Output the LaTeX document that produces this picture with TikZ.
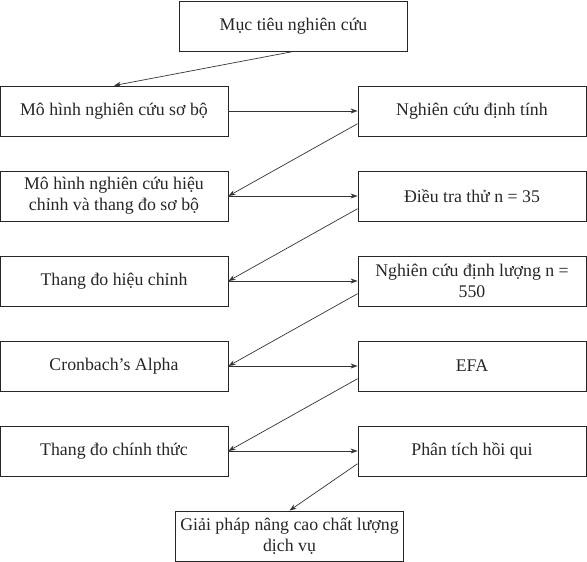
\documentclass[tikz,border=0pt]{standalone}
\usepackage{fontspec}
\setmainfont{Liberation Serif}
\usetikzlibrary{arrows.meta,calc}
\begin{document}
\begin{tikzpicture}[x=1pt,y=-1pt,
  box/.style={draw=black!85,line width=0.9pt,minimum width=228pt,minimum height=50pt,inner sep=1pt,align=center,
    font=\fontsize{17.8}{21}\selectfont,text=black!85},
  arr/.style={draw=black!80,line width=0.7pt,-{Stealth[length=7pt,width=5pt]}}]
\useasboundingbox (0,0) rectangle (587,562);
\node[box] (top) at (293.5,26) {Mục tiêu nghiên cứu};
\node[box] (l1) at (114,111) {Mô hình nghiên cứu sơ bộ};
\node[box] (r1) at (472,111) {Nghiên cứu định tính};
\node[box] (l2) at (114,196) {Mô hình nghiên cứu hiệu\\chỉnh và thang đo sơ bộ};
\node[box] (r2) at (472,196) {Điều tra thử n = 35};
\node[box] (l3) at (114,281) {Thang đo hiệu chỉnh};
\node[box] (r3) at (472,281) {Nghiên cứu định lượng n =\\550};
\node[box] (l4) at (114,366) {Cronbach’s Alpha};
\node[box] (r4) at (472,366) {EFA};
\node[box] (l5) at (114,451) {Thang đo chính thức};
\node[box] (r5) at (472,451) {Phân tích hồi qui};
\node[box] (bot) at (289.5,536) {Giải pháp nâng cao chất lượng\\dịch vụ};
\draw[arr] (top.south) -- (l1.north);
\foreach \i in {1,...,5} {
  \draw[arr] (l\i.east) -- (r\i.west);
}
\foreach \i/\j in {1/2,2/3,3/4,4/5} {
  \draw[arr] ($(r\i.west)!0.5!(r\i.south west)$) -- (l\j.east);
}
\draw[arr] ($(r5.west)!0.5!(r5.south west)$) -- (bot.north);
\end{tikzpicture}
\end{document}
